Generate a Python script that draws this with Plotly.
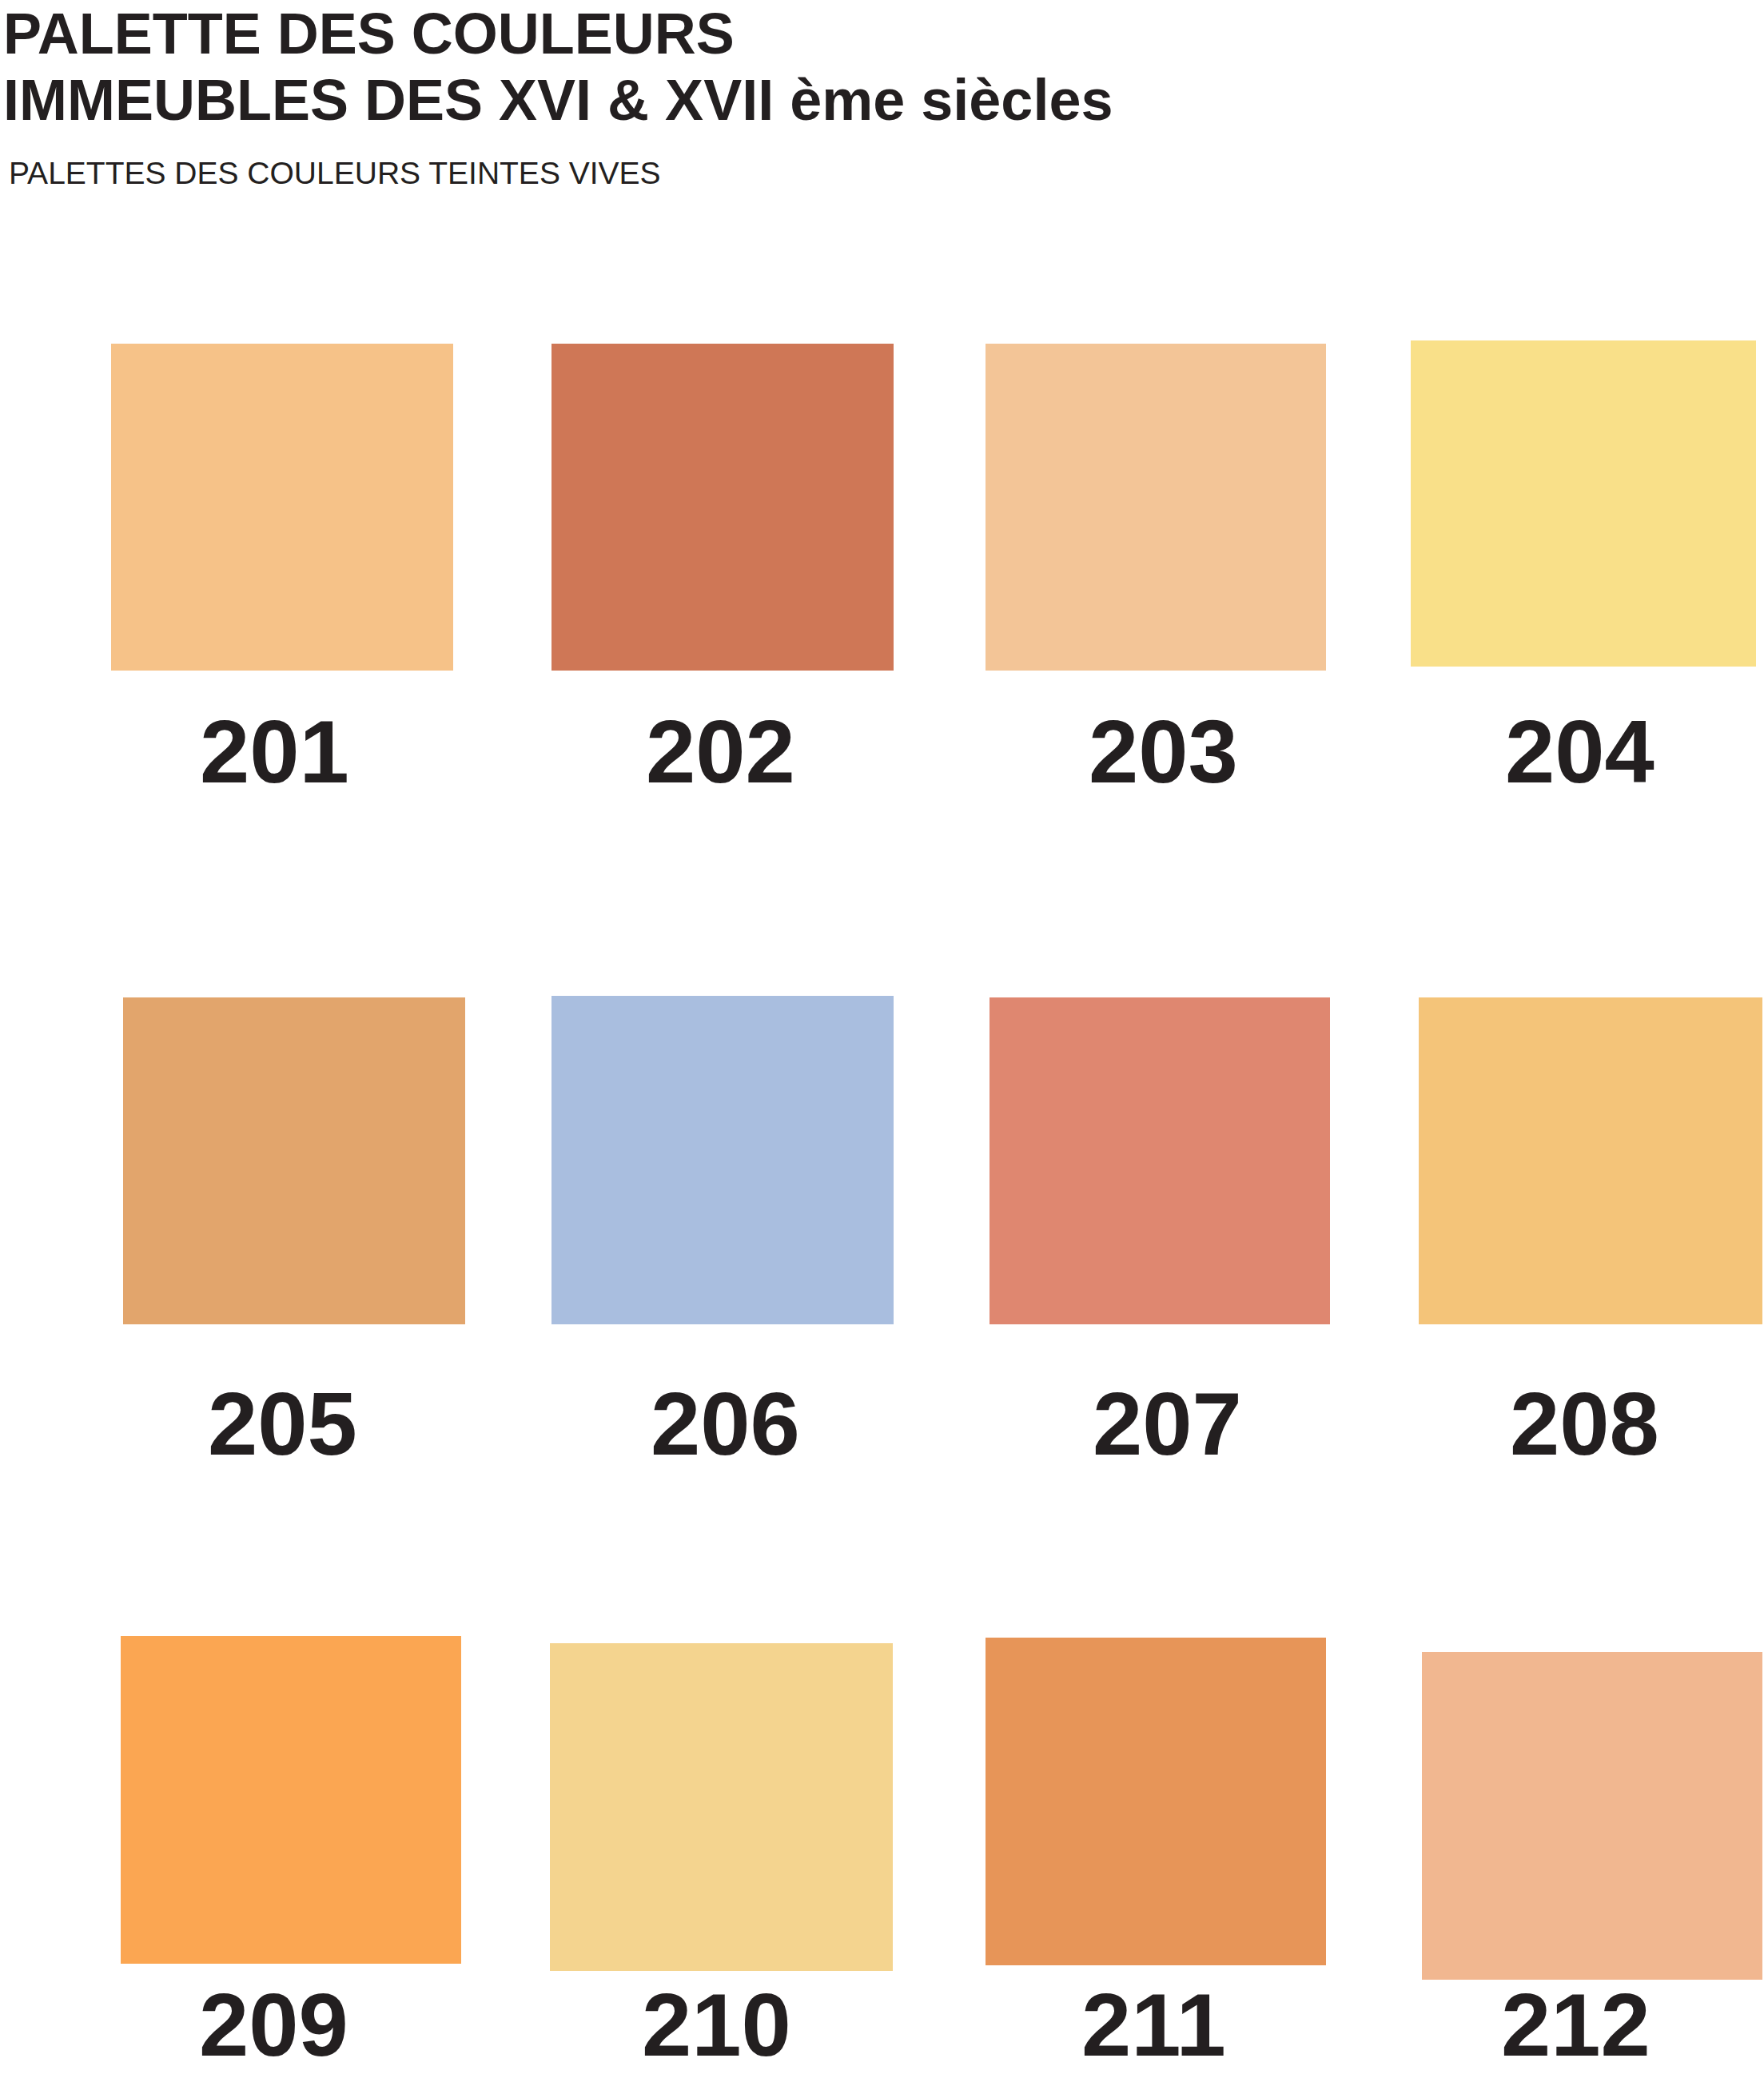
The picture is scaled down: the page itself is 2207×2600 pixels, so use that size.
import plotly.graph_objects as go

# Palette data
codes = ["201", "202", "203", "204",
         "205", "206", "207", "208",
         "209", "210", "211", "212"]
colors = ["#F6C288", "#CF7756", "#F3C597", "#F9E089",
          "#E2A56C", "#A9BEDF", "#DF8770", "#F4C479",
          "#FBA652", "#F4D48F", "#E79558", "#F1B790"]

title_lines = ["PALETTE DES COULEURS", "IMMEUBLES DES XVI & XVII ème siècles"]
subtitle = "PALETTES DES COULEURS TEINTES VIVES"

# Layout of the swatches (page pixels)
sq_x0 = [139, 690, 1233, 1765, 154, 690, 1238, 1775, 151, 688, 1233, 1779]
sq_x1 = [567, 1118, 1659, 2197, 582, 1118, 1664, 2205, 577, 1117, 1659, 2205]
sq_y0 = [430, 430, 430, 426, 1248, 1246, 1248, 1248, 2047, 2056, 2049, 2067]
sq_y1 = [839, 839, 839, 834, 1657, 1657, 1657, 1657, 2457, 2466, 2459, 2477]
label_x = [343, 901, 1455, 1976, 353, 907, 1460, 1982, 342, 896, 1443, 1971]
label_y = [940, 940, 940, 940, 1781, 1781, 1781, 1781, 2533, 2533, 2533, 2533]

W, H = 2207, 2600
ink = "#231F20"

fig = go.Figure()

# invisible trace so the axes exist
fig.add_trace(go.Scatter(x=[0, W], y=[0, H], mode="markers",
                         marker=dict(opacity=0), hoverinfo="skip", showlegend=False))

for i, c in enumerate(colors):
    fig.add_shape(type="rect", xref="x", yref="y",
                  x0=sq_x0[i], x1=sq_x1[i], y0=sq_y0[i], y1=sq_y1[i],
                  fillcolor=c, line=dict(width=0), layer="below")
    fig.add_annotation(x=label_x[i], y=label_y[i], xref="x", yref="y",
                       text="<b>" + codes[i] + "</b>", showarrow=False,
                       xanchor="center", yanchor="middle",
                       font=dict(family="Liberation Sans, Arial", size=112, color=ink))

# titles
for txt, yy in zip(title_lines, [42, 125]):
    fig.add_annotation(x=2, y=yy, xref="x", yref="y", text="<b>" + txt + "</b>",
                       showarrow=False, xanchor="left", yanchor="middle",
                       font=dict(family="Liberation Sans, Arial", size=72, color=ink))
fig.add_annotation(x=9, y=216, xref="x", yref="y", text=subtitle,
                   showarrow=False, xanchor="left", yanchor="middle",
                   font=dict(family="Liberation Sans, Arial", size=39, color=ink))

fig.update_layout(
    width=W, height=H,
    margin=dict(l=0, r=0, t=0, b=0),
    plot_bgcolor="white", paper_bgcolor="white",
    xaxis=dict(range=[0, W], visible=False, fixedrange=True),
    yaxis=dict(range=[H, 0], visible=False, fixedrange=True),
    showlegend=False,
)

# page body has a default margin; drop it so the figure sits at the page corner
fig.write_html("out.html", config={"displayModeBar": False},
               post_script="document.body.style.margin='0';")
